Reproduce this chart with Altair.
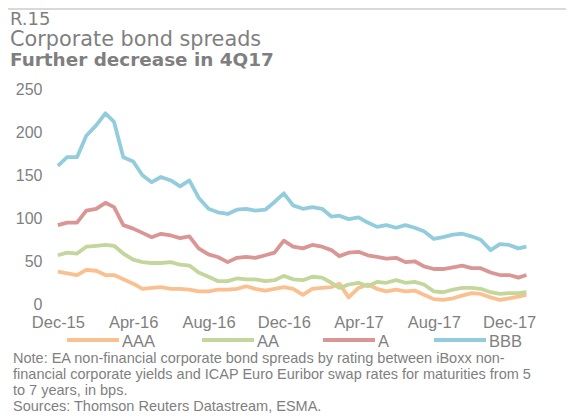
import altair as alt
import pandas as pd

# ---------------- data ----------------
dates = ["2015-12-01","2015-12-16","2016-01-01","2016-01-16","2016-02-01","2016-02-16",
         "2016-03-01","2016-03-16","2016-04-01","2016-04-16","2016-05-01","2016-05-16",
         "2016-06-01","2016-06-16","2016-07-01","2016-07-16","2016-08-01","2016-08-16",
         "2016-09-01","2016-09-16","2016-10-01","2016-10-16","2016-11-01","2016-11-16",
         "2016-12-01","2016-12-16","2017-01-01","2017-01-16","2017-02-01","2017-02-16",
         "2017-03-01","2017-03-16","2017-04-01","2017-04-16","2017-05-01","2017-05-16",
         "2017-06-01","2017-06-16","2017-07-01","2017-07-16","2017-08-01","2017-08-16",
         "2017-09-01","2017-09-16","2017-10-01","2017-10-16","2017-11-01","2017-11-16",
         "2017-12-01","2017-12-16","2017-12-29"]

aaa = [40, 38, 36, 42, 41, 36, 36, 31, 26, 20, 21, 22, 20, 20, 19, 17, 17, 19, 19, 20,
       23, 20, 18, 20, 22, 20, 13, 20, 21, 22, 26, 10, 21, 25, 20, 17, 19, 17, 18, 13,
       8, 7, 9, 12, 15, 14, 10, 7, 9, 11, 13]
aa = [59, 62, 61, 69, 70, 71, 70, 61, 54, 51, 50, 50, 51, 48, 47, 39, 34, 29, 29, 32,
      31, 31, 29, 30, 35, 31, 30, 34, 33, 27, 21, 25, 27, 23, 28, 27, 30, 27, 28, 25,
      17, 16, 19, 21, 21, 20, 16, 14, 15, 15, 16]
a_ = [94, 97, 97, 111, 113, 120, 115, 94, 90, 85, 80, 84, 82, 79, 81, 67, 60, 57, 51, 56,
      57, 56, 59, 62, 76, 69, 67, 71, 69, 65, 58, 62, 63, 59, 57, 55, 56, 51, 52, 46,
      43, 43, 45, 47, 44, 44, 39, 36, 36, 33, 36]
bbb = [163, 173, 173, 198, 210, 224, 214, 173, 168, 152, 144, 150, 146, 139, 146, 126,
       113, 109, 107, 112, 113, 111, 112, 121, 131, 117, 113, 115, 113, 104, 105, 101,
       103, 97, 92, 94, 91, 94, 91, 87, 78, 80, 83, 84, 81, 77, 65, 72, 71, 67, 69]

series_names = ["AAA", "AA", "A", "BBB"]
series_colors = ["#FAC090", "#C3D69B", "#D99694", "#93CDDD"]

x_ticks = ["2015-12-01", "2016-04-01", "2016-08-01", "2016-12-01",
           "2017-04-01", "2017-08-01", "2017-12-01"]
y_ticks = [0, 50, 100, 150, 200, 250]

title_lines = ["R.15", "Corporate bond spreads"]
subtitle = "Further decrease in 4Q17"
note_lines = [
    "Note: EA non-financial corporate bond spreads by rating between iBoxx non-",
    "financial corporate yields and ICAP Euro Euribor swap rates for maturities from 5",
    "to 7 years, in bps.",
    "Sources: Thomson Reuters Datastream, ESMA.",
]

rows = []
for name, vals in zip(series_names, [aaa, aa, a_, bbb]):
    for d, v in zip(dates, vals):
        rows.append({"date": d, "value": v, "series": name})
df = pd.DataFrame(rows)

GRAY = "#7F7F7F"
W, H = 492, 215


def dt(s):
    y, m, d = (int(p) for p in s.split("-"))
    return alt.DateTime(year=y, month=m, date=d, utc=True)


lines = alt.Chart(df).mark_line(strokeWidth=3.8, strokeJoin="round").encode(
    x=alt.X("date:T",
            scale=alt.Scale(type="utc", domain=[dt("2015-11-15"), dt("2018-01-20")]),
            axis=alt.Axis(values=[dt(s) for s in x_ticks], format="%b-%y", title=None,
                          grid=False, domain=False, ticks=False, tickSize=0,
                          labelPadding=8, labelFont="Liberation Sans", labelFontSize=16.5,
                          labelColor=GRAY, labelOverlap=False, labelFlush=False)),
    y=alt.Y("value:Q",
            scale=alt.Scale(domain=[0, 250], nice=False, zero=True),
            axis=alt.Axis(values=y_ticks, title=None, grid=False, domain=False,
                          ticks=False, tickSize=0, labelPadding=6, labelOffset=-1.5,
                          labelFont="Liberation Sans", labelFontSize=16,
                          labelColor=GRAY)),
    color=alt.Color("series:N",
                    scale=alt.Scale(domain=series_names, range=series_colors),
                    legend=None),
)

one = alt.Data(values=[{}])


def text_layer(txt, x, y, size, font="DejaVu Sans", weight="normal", color=GRAY):
    return alt.Chart(one).mark_text(
        align="left", baseline="alphabetic", font=font, fontSize=size,
        fontWeight=weight, color=color,
    ).encode(x=alt.value(x), y=alt.value(y), text=alt.value(txt))


layers = [
    alt.Chart(one).mark_rule(color="#D9D9D9", strokeWidth=2).encode(
        x=alt.value(-40), x2=alt.value(521), y=alt.value(-82)),
    text_layer(title_lines[0], -38, -66, 18),
    text_layer(title_lines[1], -38, -45, 20.8),
    text_layer(subtitle, -38, -25, 18.4, weight="bold"),
]

# legend (manual, one entry per series)
legend_x = [19, 154, 275, 386]
for name, col, lx in zip(series_names, series_colors, legend_x):
    layers.append(
        alt.Chart(one).mark_rule(color=col, strokeWidth=4).encode(
            x=alt.value(lx), x2=alt.value(lx + 52), y=alt.value(249)))
    layers.append(text_layer(name, lx + 55, 256, 16.5, font="Liberation Sans"))

for i, ln in enumerate(note_lines):
    layers.append(text_layer(ln, -35, 272 + 16 * i, 14.5, font="Liberation Sans"))

chart = alt.layer(lines, *layers).properties(
    width=W, height=H,
    autosize=alt.AutoSizeParams(type="none"),
    padding={"left": 40, "top": 83, "right": 26, "bottom": 110},
    background="white",
).configure_view(stroke=None)

chart.save("out.html", embed_options={"renderer": "svg", "actions": False})
